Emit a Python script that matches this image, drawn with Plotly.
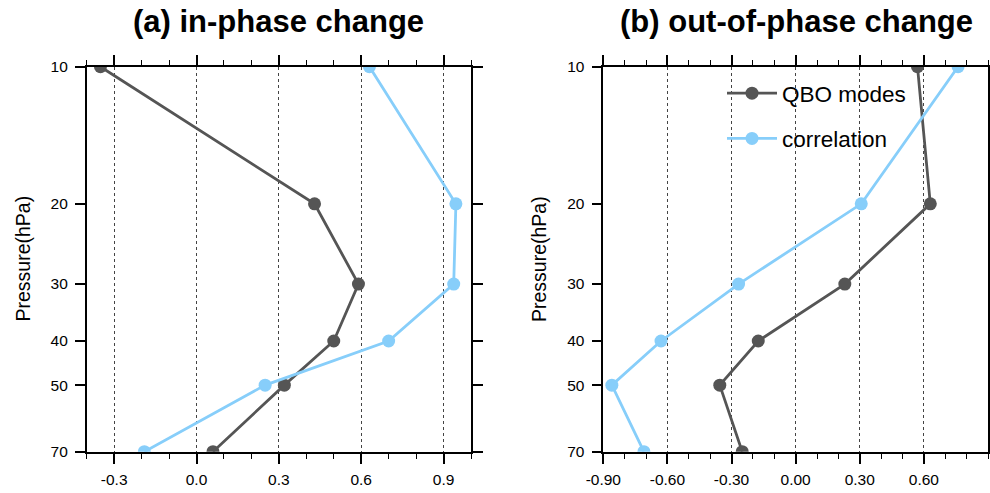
import numpy as np
import plotly.graph_objects as go
from plotly.subplots import make_subplots

pressure = [10, 20, 30, 40, 50, 70]
inphase_qbo = [-0.35, 0.43, 0.59, 0.50, 0.32, 0.06]
inphase_corr = [0.63, 0.945, 0.937, 0.70, 0.25, -0.19]
outphase_qbo = [0.57, 0.63, 0.23, -0.175, -0.355, -0.25]
outphase_corr = [0.76, 0.307, -0.267, -0.63, -0.86, -0.71]

titles = ["(a) in-phase change", "(b) out-of-phase change"]
series_names = ["QBO modes", "correlation"]
left_xticks = [-0.3, 0.0, 0.3, 0.6, 0.9]
left_xlabels = ["-0.3", "0.0", "0.3", "0.6", "0.9"]
right_xticks = [-0.9, -0.6, -0.3, 0.0, 0.3, 0.6]
right_xlabels = ["-0.90", "-0.60", "-0.30", "0.00", "0.30", "0.60"]
ytick_labels = ["10", "20", "30", "40", "50", "70"]

QBO_COLOR = "#555555"
CORR_COLOR = "#87CEFA"
FONT = "Liberation Sans, Arial, Helvetica, sans-serif"

W, H = 990, 493
fig = make_subplots(rows=1, cols=2)

def add_panel(col, qbo, corr, show):
    fig.add_trace(go.Scatter(x=qbo, y=pressure, mode="lines+markers", name=series_names[0],
                             line=dict(color=QBO_COLOR, width=2.8), marker=dict(size=13, color=QBO_COLOR),
                             showlegend=show, legendgroup="g1"), row=1, col=col)
    fig.add_trace(go.Scatter(x=corr, y=pressure, mode="lines+markers", name=series_names[1],
                             line=dict(color=CORR_COLOR, width=2.8), marker=dict(size=13, color=CORR_COLOR),
                             showlegend=show, legendgroup="g2"), row=1, col=col)

add_panel(1, inphase_qbo, inphase_corr, False)
add_panel(2, outphase_qbo, outphase_corr, True)

px = lambda v: v / W
py = lambda v: 1 - v / H
ydom = [py(451.7), py(66.7)]

common_x = dict(showline=True, linecolor="black", linewidth=1.6, mirror="ticks", ticks="outside",
                ticklen=10, tickwidth=1.6, tickcolor="black", showgrid=True, gridcolor="#444444",
                griddash="3px,3px", gridwidth=1, zeroline=False, automargin=False, ticklabelstandoff=3,
                tickfont=dict(size=15.5, color="black", family=FONT),
                minor=dict(ticks="outside", ticklen=5, tickwidth=1.2, tickcolor="black", dtick=0.1, showgrid=False))
fig.update_xaxes(common_x)
fig.update_xaxes(domain=[px(86.7), px(471)], range=[-0.4, 1.0], tickvals=left_xticks, ticktext=left_xlabels, row=1, col=1)
fig.update_xaxes(domain=[px(603.3), px(988)], range=[-0.9, 0.9], tickvals=right_xticks, ticktext=right_xlabels, row=1, col=2)
fig.update_yaxes(type="log", range=[np.log10(70), 1], autorange=False, domain=ydom, automargin=False,
                 tickvals=pressure, ticktext=ytick_labels, showline=True, linecolor="black", linewidth=1.6,
                 mirror="ticks", ticks="outside", ticklen=10, tickwidth=1.6, tickcolor="black",
                 ticklabelstandoff=4,
                 showgrid=False, zeroline=False, tickfont=dict(size=15.5, color="black", family=FONT))

for i, (t, cx) in enumerate(zip(titles, [278, 796])):
    fig.add_annotation(text="<b>" + t + "</b>", x=px(cx), y=py(21), xref="paper", yref="paper",
                       showarrow=False, font=dict(size=31, color="black", family=FONT),
                       xanchor="center", yanchor="middle")
for cx in [22.5, 539]:
    fig.add_annotation(text="Pressure(hPa)", x=px(cx), y=py(259), xref="paper", yref="paper",
                       showarrow=False, textangle=-90, font=dict(size=19.5, color="black", family=FONT),
                       xanchor="center", yanchor="middle")

fig.update_layout(width=W, height=H, margin=dict(l=0, r=0, t=0, b=0, autoexpand=False),
                  paper_bgcolor="white", plot_bgcolor="white",
                  font=dict(family=FONT, color="black"),
                  legend=dict(x=px(722), y=py(72), xanchor="left", yanchor="top",
                              bgcolor="rgba(0,0,0,0)", font=dict(size=22.5, color="black", family=FONT),
                              tracegroupgap=13, itemwidth=50))

fig.write_html("out.html")
